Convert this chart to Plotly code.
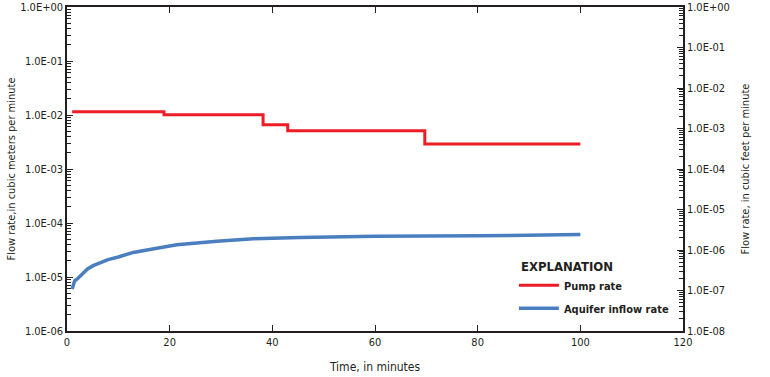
import plotly.graph_objects as go

pump_time = [1.0, 18.9, 38.2, 43.0, 69.7, 100.0]
pump_rate = [0.0115, 0.0101, 0.0066, 0.0051, 0.0029, 0.0029]

aq_time = [1.0, 1.5, 2.0, 4.0, 5.1, 8.0, 10.0, 12.9, 17.5, 21.4, 29.2, 36.3, 45.4, 60.0, 80.0, 100.0]
aq_rate = [6.0e-6, 8.5e-6, 9.2e-6, 1.41e-5, 1.62e-5, 2.1e-5, 2.35e-5, 2.85e-5, 3.4e-5,
           3.95e-5, 4.6e-5, 5.1e-5, 5.4e-5, 5.7e-5, 5.8e-5, 6.1e-5]

left_exp = list(range(-6, 1))
right_exp = list(range(-8, 1))

def fmt(e):
    return "1.0E+00" if e == 0 else "1.0E-%02d" % (-e)

def minors(exps):
    out = []
    for e in exps[:-1]:
        for m in range(2, 10):
            out.append(m * 10 ** e)
    return out

FONT = "DejaVu Sans Condensed, Liberation Sans Narrow, Arial Narrow, sans-serif"
INK = "#231F20"

fig = go.Figure()
fig.add_trace(go.Scatter(x=pump_time, y=pump_rate, mode="lines", name="<b>Pump rate</b>",
                         legendgroup="a",
                         line=dict(color="#EE1C25", width=3, shape="hv")))
fig.add_trace(go.Scatter(x=aq_time, y=aq_rate, mode="lines", name="<b>Aquifer inflow rate</b>",
                         legendgroup="b",
                         line=dict(color="#4A7EBF", width=3.5)))
fig.add_trace(go.Scatter(x=[0], y=[1e-4], yaxis="y2", mode="lines", showlegend=False,
                         hoverinfo="skip", line=dict(width=0), opacity=0))

fig.update_layout(
    width=770, height=377,
    margin=dict(l=67, r=87, t=7, b=46),
    paper_bgcolor="white", plot_bgcolor="white",
    font=dict(family=FONT, size=11, color=INK),
    xaxis=dict(range=[0, 120], tickvals=[0, 20, 40, 60, 80, 100, 120],
               ticks="inside", ticklen=6, tickcolor=INK, showline=True,
               linecolor=INK, linewidth=1.5, mirror="ticks", showgrid=False,
               zeroline=False, automargin=False,
               title=dict(text="Time, in minutes", standoff=15, font=dict(size=12)),
               tickfont=dict(size=11)),
    yaxis=dict(type="log", range=[-6, 0], tickvals=[10 ** e for e in left_exp],
               ticktext=[fmt(e) for e in left_exp], ticks="inside", ticklen=6,
               tickcolor=INK, showline=True, linecolor=INK, linewidth=1.5,
               showgrid=False, zeroline=False, automargin=False,
               minor=dict(tickvals=minors(left_exp), ticks="inside", ticklen=4,
                          tickcolor=INK, showgrid=False),
               title=dict(text="Flow rate,in cubic meters per minute", standoff=2,
                          font=dict(size=11)),
               tickfont=dict(size=11)),
    yaxis2=dict(type="log", range=[-8, 0], overlaying="y", side="right",
                tickvals=[10 ** e for e in right_exp], ticktext=[fmt(e) for e in right_exp],
                ticks="inside", ticklen=6, tickcolor=INK, showline=True,
                linecolor=INK, linewidth=1.5, showgrid=False, zeroline=False,
                automargin=False,
                minor=dict(tickvals=minors(right_exp), ticks="inside", ticklen=4,
                           tickcolor=INK, showgrid=False),
                title=dict(text="Flow rate, in cubic feet per minute", standoff=12,
                           font=dict(size=11)),
                tickfont=dict(size=11)),
    legend=dict(x=0.7255, y=0.186, xanchor="left", yanchor="top",
                bgcolor="rgba(0,0,0,0)",
                font=dict(size=11), tracegroupgap=4,
                itemwidth=40),
    showlegend=True,
    annotations=[dict(text="<b>EXPLANATION</b>", xref="paper", yref="paper",
                      x=(567 - 67) / 616, y=(331 - 266) / 324,
                      xanchor="center", yanchor="middle", showarrow=False,
                      font=dict(size=13, color=INK))],
)

fig.write_html("out.html", post_script="document.body.style.margin='0';",
               config={"displayModeBar": False})
